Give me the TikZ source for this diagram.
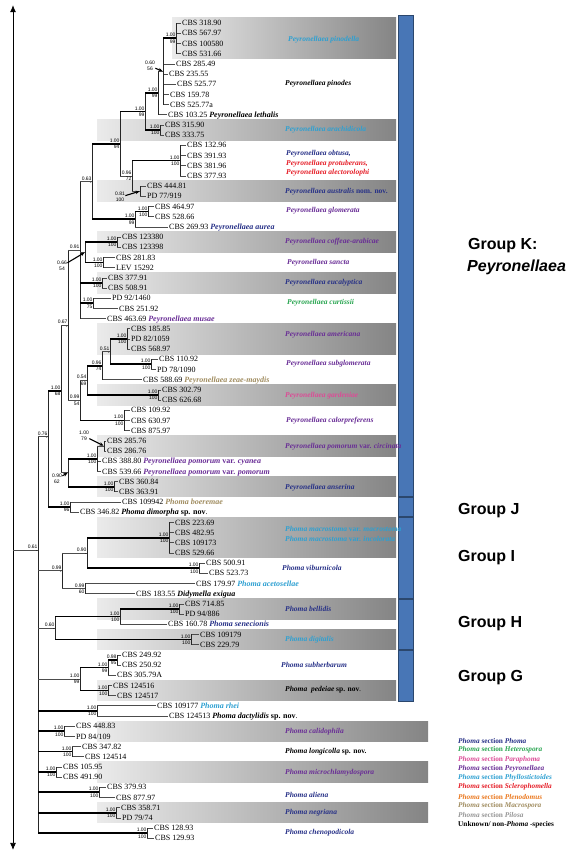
\documentclass[tikz,border=0pt]{standalone}
\usepackage{fontspec}
\setmainfont{Liberation Serif}
\setsansfont{Liberation Sans}
\usetikzlibrary{arrows.meta}
\definecolor{secPhoma}{RGB}{38,48,135}
\definecolor{secHetero}{RGB}{40,165,80}
\definecolor{secPara}{RGB}{220,75,150}
\definecolor{secPeyro}{RGB}{105,45,150}
\definecolor{secPhyllo}{RGB}{45,160,210}
\definecolor{secSclero}{RGB}{230,30,40}
\definecolor{secPleno}{RGB}{235,120,30}
\definecolor{secMacro}{RGB}{160,140,95}
\definecolor{secPilosa}{RGB}{150,150,150}
\definecolor{barblue}{RGB}{72,118,182}
\newcommand{\spn}[2][black]{\textcolor{#1}{\bfseries\itshape #2}}
\tikzset{
	leaf/.style={anchor=west,inner sep=0pt,font=\fontsize{8}{8}\selectfont,text height=5.4pt,text depth=0pt},%
	twig/.style={black!70,line width=0.5pt},%
	vline/.style={black!85,line width=0.5pt},%
	bar/.style={black,line width=1.8pt},%
	ppl/.style={anchor=south east,inner sep=0.3pt,yshift=0.9pt,font=\sffamily\fontsize{5}{5}\selectfont},%
	bsl/.style={anchor=north east,inner sep=0.3pt,yshift=-0.9pt,font=\sffamily\fontsize{5}{5}\selectfont},%
	arrlab/.style={align=center,inner sep=0.3pt,font=\sffamily\fontsize{5}{6}\selectfont},%
	pointer/.style={-{Stealth[length=4pt,width=3.5pt]},line width=1.1pt,shorten >=0.6pt},%
	band/.style={left color=black!8,right color=black!48},%
	grpbar/.style={fill=barblue,draw=barblue!60!black,line width=0.6pt},%
	grplab/.style={anchor=west,inner sep=0pt,font=\sffamily\bfseries\fontsize{16}{16}\selectfont},%
	spec/.style={anchor=west,inner sep=0pt,font=\bfseries\itshape\fontsize{7.5}{9}\selectfont},%
	legline/.style={anchor=west,inner sep=0pt,font=\bfseries\fontsize{7.3}{8}\selectfont},%
	axisline/.style={{Latex[length=7pt,width=6pt]}-{Latex[length=7pt,width=6pt]},line width=0.8pt},%
}

\begin{document}
\begin{tikzpicture}[x=1pt,y=-10.19pt]
\useasboundingbox[fill=white] (0,-1.257) rectangle (577,82.452);
% shaded boxes
\foreach \a/\b/\xl/\xr in {1/4/172/396, 11/12/97/396, 17/18/97/396, 22/23/97/396, 26/27/97/396, 31/33/97/396, 37/38/97/396, 42/43/97/396, 46/47/97/396, 50/53/97/396, 58/59/97/396, 61/62/97/396, 66/67/97/396, 70/71/97/428, 74/75/97/428, 78/79/97/428}
	\shade[band] (\xl,\a-0.5) rectangle (\xr,\b+0.5);
% group bar
\foreach \a/\b in {0.22/47.45, 47.55/49.45, 49.55/57.45, 57.55/62.45, 62.55/67.6}
	\draw[grpbar] (398,\a) rectangle (413,\b);
% tree nodes
\coordinate (pinodella) at (176,2.5);
\coordinate (pn) at (163,5.75);
\coordinate (p2) at (158,7.875);
\coordinate (arach) at (160,11.5);
\coordinate (p1) at (145,9.69);
\coordinate (obtusa) at (180,14.5);
\coordinate (austr) at (140,17.5);
\coordinate (nA) at (132,16);
\coordinate (p0) at (120,12.84);
\coordinate (glomB) at (148,19.5);
\coordinate (glomA) at (135,20.25);
\coordinate (nB) at (92,16.55);
\coordinate (coffeae) at (117,22.5);
\coordinate (sancta) at (103,24.5);
\coordinate (nC) at (85,23.5);
\coordinate (eucal) at (102,26.5);
\coordinate (curt) at (93,28.5);
\coordinate (nD) at (80,23.27);
\coordinate (americ) at (127,32);
\coordinate (subglo) at (151,34.5);
\coordinate (nE) at (110,33.25);
\coordinate (nF) at (102,34.625);
\coordinate (garden) at (158,37.5);
\coordinate (nG) at (87,36.06);
\coordinate (calor) at (124,40);
\coordinate (nH) at (80,38.03);
\coordinate (nI) at (68,30.65);
\coordinate (circ) at (104,42.5);
\coordinate (pomor) at (97,43.75);
\coordinate (anser) at (114,46.5);
\coordinate (nJ) at (68,45.125);
\coordinate (K) at (61,37.1);
\coordinate (grpJ) at (70,48.5);
\coordinate (nK) at (48,41.6);
\coordinate (macro) at (169,51.5);
\coordinate (vibur) at (199,54.5);
\coordinate (nL) at (87,53);
\coordinate (acet) at (85,56.5);
\coordinate (nM) at (62,54.75);
\coordinate (bellB) at (179,58.5);
\coordinate (bellA) at (120,59.25);
\coordinate (digit) at (191,61.5);
\coordinate (grpH) at (55,60.375);
\coordinate (subB) at (117,63.5);
\coordinate (subA) at (108,64.25);
\coordinate (pedei) at (108,66.5);
\coordinate (grpG) at (80,65.375);
\coordinate (rhei) at (97,68.5);
\coordinate (calid) at (64,70.5);
\coordinate (longi) at (72,72.5);
\coordinate (micro) at (56,74.5);
\coordinate (alien) at (99,76.5);
\coordinate (negri) at (116,78.5);
\coordinate (cheno) at (147,80.5);
\coordinate (root) at (38,52.7);
\coordinate (axtop) at (13,-0.75);
\coordinate (axbot) at (13,82.15);
% strains
\foreach \rw/\x/\p/\txt in {1/182/pinodella/CBS 318.90, 2/182/pinodella/CBS 567.97, 3/182/pinodella/CBS 100580, 4/182/pinodella/CBS 531.66,
	5/176/pn/CBS 285.49, 6/169/pn/CBS 235.55, 7/177/pn/CBS 525.77, 8/170/pn/CBS 159.78, 9/170/pn/CBS 525.77a,
	10/168/p2/{CBS 103.25 \spn{Peyronellaea lethalis}}, 11/165/arach/CBS 315.90, 12/165/arach/CBS 333.75,
	13/187/obtusa/CBS 132.96, 14/187/obtusa/CBS 391.93, 15/187/obtusa/CBS 381.96, 16/187/obtusa/CBS 377.93,
	17/147/austr/CBS 444.81, 18/147/austr/{PD 77/919}, 19/155/glomB/CBS 464.97, 20/155/glomB/CBS 528.66,
	21/169/glomA/{CBS 269.93 \spn[secPhoma]{Peyronellaea aurea}}, 22/122/coffeae/CBS 123380, 23/122/coffeae/CBS 123398,
	24/116/sancta/CBS 281.83, 25/116/sancta/LEV 15292, 26/108/eucal/CBS 377.91, 27/108/eucal/CBS 508.91,
	28/112/curt/{PD 92/1460}, 29/119/curt/CBS 251.92, 30/107/nD/{CBS 463.69 \spn[secPeyro]{Peyronellaea musae}},
	31/131/americ/CBS 185.85, 32/131/americ/{PD 82/1059}, 33/131/americ/CBS 568.97, 34/159/subglo/CBS 110.92, 35/157/subglo/{PD 78/1090},
	36/143/nF/{CBS 588.69 \spn[secMacro]{Peyronellaea zeae-maydis}}, 37/162/garden/CBS 302.79, 38/162/garden/CBS 626.68,
	39/131/calor/CBS 109.92, 40/131/calor/CBS 630.97, 41/131/calor/CBS 875.97, 42/107/circ/CBS 285.76, 43/107/circ/CBS 286.76,
	44/102/pomor/{CBS 388.80 \spn[secPeyro]{Peyronellaea pomorum \textup{var.} cyanea}},
	45/102/pomor/{CBS 539.66 \spn[secPeyro]{Peyronellaea pomorum \textup{var.} pomorum}},
	46/119/anser/CBS 360.84, 47/119/anser/CBS 363.91, 48/122/grpJ/{CBS 109942 \spn[secMacro]{Phoma boeremae}},
	49/80/grpJ/{CBS 346.82 \spn{Phoma dimorpha \textup{sp. nov}}.}, 50/175/macro/CBS 223.69, 51/175/macro/CBS 482.95,
	52/175/macro/CBS 109173, 53/175/macro/CBS 529.66, 54/206/vibur/CBS 500.91, 55/209/vibur/CBS 523.73,
	56/196/acet/{CBS 179.97 \spn[secPhyllo]{Phoma acetosellae}}, 57/136/acet/{CBS 183.55 \spn{Didymella exigua}},
	58/185/bellB/CBS 714.85, 59/185/bellB/{PD 94/886}, 60/168/bellA/{CBS 160.78 \spn[secPhoma]{Phoma senecionis}},
	61/200/digit/CBS 109179, 62/200/digit/CBS 229.79, 63/122/subB/CBS 249.92, 64/122/subB/CBS 250.92, 65/117/subA/CBS 305.79A,
	66/113/pedei/CBS 124516, 67/117/pedei/CBS 124517, 68/157/rhei/{CBS 109177 \spn[secPhyllo]{Phoma rhei}},
	69/169/rhei/{CBS 124513 \spn{Phoma dactylidis \textup{sp. nov}}.}, 70/76/calid/CBS 448.83, 71/76/calid/{PD 84/109},
	72/82/longi/CBS 347.82, 73/85/longi/CBS 124514, 74/63/micro/CBS 105.95, 75/63/micro/CBS 491.90,
	76/107/alien/CBS 379.93, 77/116/alien/CBS 877.97, 78/121/negri/CBS 358.71, 79/122/negri/{PD 79/74},
	80/154/cheno/CBS 128.93, 81/155/cheno/CBS 129.93}
{
	\node[leaf] (l\rw) at (\x,\rw) {\txt};
	\draw[twig] (\p |- l\rw.west) -- ([xshift=-1pt]l\rw.west);
}
% verticals
\foreach \n/\a/\b in {pinodella/l1/l4, pn/pinodella/l9, p2/pn/l10, arach/l11/l12, p1/p2/arach, obtusa/l13/l16, austr/l17/l18,
	nA/obtusa/austr, p0/p1/nA, glomB/l19/l20, glomA/glomB/l21, nB/p0/glomA, coffeae/l22/l23, sancta/l24/l25, nC/coffeae/sancta,
	eucal/l26/l27, curt/l28/l29, nD/nB/l30, americ/l31/l33, subglo/l34/l35, nE/americ/subglo, nF/nE/l36, garden/l37/l38,
	nG/nF/garden, calor/l39/l41, nH/nG/calor, nI/nD/nH, circ/l42/l43, pomor/circ/l45, anser/l46/l47, nJ/pomor/anser,
	K/nI/nJ, grpJ/l48/l49, nK/K/grpJ, macro/l50/l53, vibur/l54/l55, nL/macro/vibur, acet/l56/l57, nM/nL/acet,
	bellB/l58/l59, bellA/bellB/l60, digit/l61/l62, grpH/bellA/digit, subB/l63/l64, subA/subB/l65, pedei/l66/l67,
	grpG/subA/pedei, rhei/l68/l69, calid/l70/l71, longi/l72/l73, micro/l74/l75, alien/l76/l77, negri/l78/l79,
	cheno/l80/l81, root/nK/cheno}
	\draw[vline] (\n |- \a) -- (\n |- \b);
% branches
\foreach \p/\c in {pn/pinodella, p1/p2, p1/arach, nA/obtusa, p0/p1, glomA/glomB, nB/p0, nB/glomA, nC/coffeae, nC/sancta,
	nD/eucal, nD/curt, nE/americ, nE/subglo, nG/nF, nG/garden, nH/calor, nJ/pomor, nJ/anser, nK/K, nK/grpJ,
	nL/macro, nL/vibur, bellA/bellB, grpH/bellA, grpH/digit, subA/subB, grpG/subA, grpG/pedei,
	root/rhei, root/calid, root/longi, root/micro, root/alien, root/negri, root/cheno}
	\draw[bar] (\p |- \c) -- (\c);
\foreach \p/\c in {p2/pn, nA/austr, p0/nA, nD/nB, nD/nC, nF/nE, nH/nG, nI/nD, nI/nH, pomor/circ, K/nI, K/nJ,
	nM/nL, nM/acet, root/nK, root/nM, root/grpH, root/grpG}
	\draw[twig] (\p |- \c) -- (\c);
\draw[axisline] (axtop) -- (axbot);
\draw[twig] (axtop |- root) -- (root);
% support values
\foreach \c/\pp/\bs in {pinodella/1.00/99, p2/1.00/99, p1/1.00/99, arach/1.00/100, p0/1.00/94, obtusa/1.00/100, nA/0.96/72,
	glomB/1.00/100, glomA/1.00/99, nB/0.63/-, coffeae/1.00/100, sancta/1.00/100, eucal/1.00/100, curt/1.00/75, nD/0.91/{},
	americ/1.00/100, subglo/1.00/100, nE/0.51/-, nF/0.96/74, garden/1.00/100, nG/0.54/69, calor/1.00/100, nH/0.99/54,
	nI/0.67/-, pomor/1.00/100, anser/1.00/100, K/1.00/68, grpJ/1.00/96, nK/0.76/-, macro/1.00/100, vibur/1.00/100,
	nL/0.90/-, acet/0.99/60, nM/0.99/-, bellB/1.00/100, bellA/1.00/100, digit/1.00/100, grpH/0.60/-, subB/0.98/95,
	subA/1.00/99, pedei/1.00/100, grpG/1.00/99, rhei/1.00/100, calid/1.00/100, longi/1.00/100, micro/1.00/100,
	alien/1.00/100, negri/1.00/100, cheno/1.00/100, root/0.61/-}
{
	\node[ppl] (pp-\c) at (\c) {\pp};
	\node[bsl] (bs-\c) at (\c) {\bs};
}
\node[arrlab] (lpn) at (150,5.22) {0.60\\56};
\node[arrlab] (laustr) at (120,18.1) {0.81\\100};
\node[arrlab] (lnC) at (62,24.85) {0.66\\54};
\node[arrlab] (lcirc) at (84,41.53) {1.00\\79};
\node[arrlab] (lnJ) at (57,45.75) {0.90\\62};
\draw[pointer] (lpn) -- (pn);
\draw[pointer] (laustr) -- (austr);
\draw[pointer] (lnC) -- (nC);
\draw[pointer] (lcirc) -- (circ);
\draw[pointer] (lnJ) -- (nJ);
% species names
\foreach \rw/\x/\cl/\txt [count=\i] in {2.6/288/secPhyllo/Peyronellaea pinodella, 7.0/285/black/Peyronellaea pinodes,
	11.45/285/secPhyllo/Peyronellaea arachidicola, 13.83/286/secPhoma/{Peyronellaea obtusa,},
	14.77/286/secSclero/{Peyronellaea protuberans,}, 15.72/286/secSclero/Peyronellaea alectorolophi,
	17.55/285/secPhoma/{Peyronellaea australis \textup{nom. nov.}}, 19.45/286/secPeyro/Peyronellaea glomerata,
	22.5/285/secPeyro/Peyronellaea coffeae-arabicae, 24.55/287/secPeyro/Peyronellaea sancta,
	26.5/285/secPhoma/Peyronellaea eucalyptica, 28.45/287/secHetero/Peyronellaea curtissii,
	31.55/285/secPeyro/Peyronellaea americana, 34.4/286/secPeyro/Peyronellaea subglomerata,
	37.55/285/secPara/Peyronellaea gardeniae, 40.05/286/secPeyro/Peyronellaea calorpreferens,
	42.6/285/secPeyro/{Peyronellaea pomorum \textup{var.} circinata}, 46.6/285/secPhoma/Peyronellaea anserina,
	50.65/285/secPhyllo/{Phoma macrostoma \textup{var.} macrostoma}, 51.6/285/secPhyllo/{Phoma macrostoma \textup{var.} incolorata},
	54.45/282/secPhoma/Phoma viburnicola, 58.5/285/secPhoma/Phoma bellidis, 61.5/285/secPhyllo/Phoma digitalis,
	63.95/281/secPhoma/Phoma subherbarum, 66.45/285/black/{Phoma\ \ pedeiae \textup{sp. nov}\textmd{.}},
	70.55/285/secPeyro/Phoma calidophila, 72.55/285/black/{Phoma longicolla \textup{sp. nov.}},
	74.6/285/secPeyro/Phoma microchlamydospora, 76.8/285/secPhoma/Phoma aliena, 78.45/285/secPhoma/Phoma negriana,
	80.5/285/secPhoma/Phoma chenopodicola}
	\node[spec,text=\cl] (sp\i) at (\x,\rw) {\txt};
% groups
\node[grplab] (gK) at (468,22.8) {Group K:};
\node[grplab,font=\sffamily\bfseries\itshape\fontsize{16}{16}\selectfont] (gKb) at (467,25.0) {Peyronellaea};
\node[grplab] (gJ) at (458,48.8) {Group J};
\node[grplab] (gI) at (458,53.5) {Group I};
\node[grplab] (gH) at (458,59.9) {Group H};
\node[grplab] (gG) at (458,65.2) {Group G};
% legend
\foreach \secname/\cl [count=\i from 0] in {Phoma/secPhoma, Heterospora/secHetero, Paraphoma/secPara, Peyronellaea/secPeyro,
	Phyllostictoides/secPhyllo, Sclerophomella/secSclero, Plenodomus/secPleno, Macrospora/secMacro, Pilosa/secPilosa}
	\node[legline,text=\cl] (leg\i) at (458,{71.43+\i*0.913}) {\textit{Phoma} section \textit{\secname}};
\node[legline] (leg9) at (458,{71.43+9*0.913}) {Unknown/ non-\textit{Phoma} -species};
\end{tikzpicture}
\end{document}
